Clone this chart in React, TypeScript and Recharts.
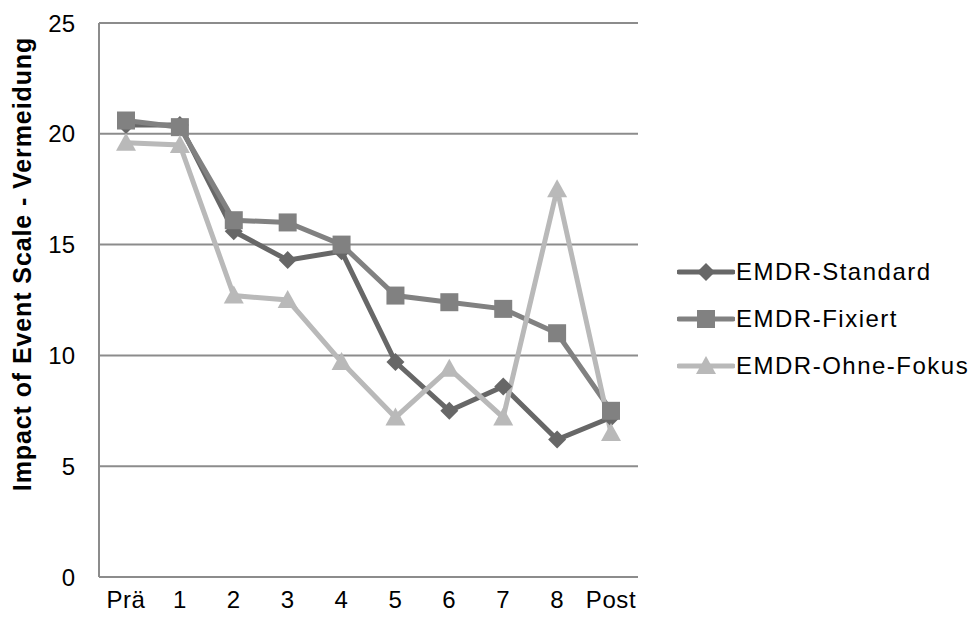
import { CartesianGrid, Label, Line, LineChart, XAxis, YAxis } from "recharts";

const sessions = ["Prä", "1", "2", "3", "4", "5", "6", "7", "8", "Post"];
const standard = [20.4, 20.4, 15.6, 14.3, 14.7, 9.7, 7.5, 8.6, 6.2, 7.2];
const fixiert = [20.6, 20.3, 16.1, 16.0, 15.0, 12.7, 12.4, 12.1, 11.0, 7.5];
const ohneFokus = [19.6, 19.5, 12.7, 12.5, 9.7, 7.2, 9.4, 7.2, 17.5, 6.5];
const yTicks = [0, 5, 10, 15, 20, 25];

const data = sessions.map((s, i) => ({
  session: s,
  standard: standard[i],
  fixiert: fixiert[i],
  ohne: ohneFokus[i],
}));

const FONT = "'Liberation Sans', Arial, sans-serif";

const Diamond = ({ cx, cy, fill }: any) => (
  <path d={`M${cx},${cy - 9} L${cx + 9},${cy} L${cx},${cy + 9} L${cx - 9},${cy} Z`} fill={fill} />
);
const Square = ({ cx, cy, fill }: any) => (
  <rect x={cx - 9} y={cy - 9} width={18} height={18} fill={fill} />
);
const Triangle = ({ cx, cy, fill }: any) => (
  <path d={`M${cx},${cy - 10} L${cx + 10},${cy + 8} L${cx - 10},${cy + 8} Z`} fill={fill} />
);

const series = [
  { key: "standard", name: "EMDR-Standard", color: "#676767", Marker: Diamond },
  { key: "fixiert", name: "EMDR-Fixiert", color: "#818181", Marker: Square },
  { key: "ohne", name: "EMDR-Ohne-Fokus", color: "#b9b9b9", Marker: Triangle },
];

const LegendBox = () => (
  <div style={{ position: "absolute", left: 677, top: 248, fontFamily: FONT, fontSize: 24, letterSpacing: 1.5 }}>
    {series.map(({ key, name, color, Marker }) => (
      <div key={key} style={{ display: "flex", alignItems: "center", height: 47 }}>
        <svg width={58} height={24}>
          <line x1={2} y1={12} x2={56} y2={12} stroke={color} strokeWidth={5} strokeLinecap="round" />
          <Marker cx={29} cy={12} fill={color} />
        </svg>
        <span style={{ color: "#000", marginLeft: 1 }}>{name}</span>
      </div>
    ))}
  </div>
);

// rotated axis title, drawn a little above the plot's middle
const YTitle = ({ viewBox }: any) => {
  const x = 31;
  const y = viewBox.y + viewBox.height / 2 - 36;
  return (
    <text
      x={x}
      y={y}
      transform={`rotate(-90, ${x}, ${y})`}
      textAnchor="middle"
      fill="#000"
      style={{ fontSize: 25, fontWeight: "bold", fontFamily: FONT, letterSpacing: 0.9 }}
    >
      Impact of Event Scale - Vermeidung
    </text>
  );
};

export default function App() {
  return (
    <div style={{ position: "absolute", left: 0, top: 0, width: 973, height: 621, background: "#fff" }}>
      <LineChart
        width={973}
        height={621}
        data={data}
        margin={{ top: 23, right: 335, bottom: 0, left: 0 }}
      >
        <CartesianGrid vertical={false} stroke="#8c8c8c" strokeWidth={2} />
        <XAxis
          dataKey="session"
          padding={{ left: 27, right: 27 }}
          interval={0}
          stroke="#8c8c8c"
          strokeWidth={2}
          tickLine={false}
          tickMargin={8}
          tick={{ fill: "#000", fontSize: 24, fontFamily: FONT, letterSpacing: 0.6 }}
          height={44}
        />
        <YAxis
          domain={[0, 25]}
          ticks={yTicks}
          width={99}
          stroke="#8c8c8c"
          strokeWidth={2}
          tickLine={false}
          tickMargin={18}
          tick={{ fill: "#000", fontSize: 24, fontFamily: FONT }}
        >
          <Label content={<YTitle />} />
        </YAxis>
        {series.map(({ key, name, color, Marker }) => (
          <Line
            key={key}
            dataKey={key}
            name={name}
            stroke={color}
            strokeWidth={5}
            dot={(p: any) => <Marker key={p.index} cx={p.cx} cy={p.cy} fill={color} />}
            isAnimationActive={false}
          />
        ))}
      </LineChart>
      <LegendBox />
    </div>
  );
}
